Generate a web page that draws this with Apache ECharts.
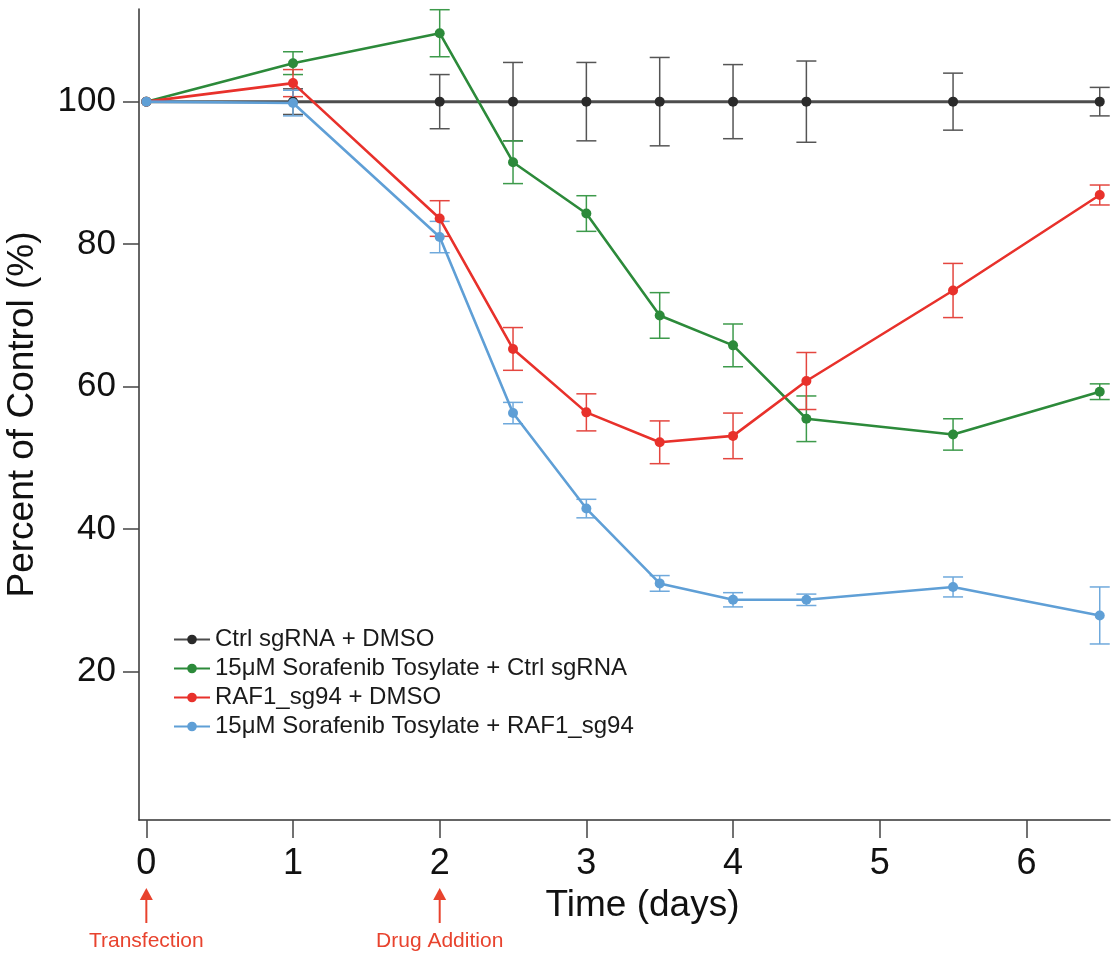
<!DOCTYPE html>
<html><head><meta charset="utf-8">
<script src="https://cdn.jsdelivr.net/npm/echarts@6/dist/echarts.min.js"></script>
<style>html,body{margin:0;padding:0;background:#fff}#c{width:1118px;height:955px}</style>
</head><body><div id="c"></div>
<script>
const days = [0, 1, 2, 2.5, 3, 3.5, 4, 4.5, 5.5, 6.5];
const seriesNames = ['Ctrl sgRNA + DMSO', '15μM Sorafenib Tosylate + Ctrl sgRNA', 'RAF1_sg94 + DMSO', '15μM Sorafenib Tosylate + RAF1_sg94'];
const ctrlMean  = [100, 100, 100, 100, 100, 100, 100, 100, 100, 100];
const ctrlErr   = [0, 1.8, 3.8, 5.5, 5.5, 6.2, 5.2, 5.7, 4.0, 2.0];
const soraMean  = [100, 105.4, 109.6, 91.5, 84.3, 70.0, 65.8, 55.5, 53.3, 59.3];
const soraErr   = [0, 1.6, 3.3, 3.0, 2.5, 3.2, 3.0, 3.2, 2.2, 1.1];
const rafMean   = [100, 102.6, 83.6, 65.3, 56.4, 52.2, 53.1, 60.8, 73.5, 86.9];
const rafErr    = [0, 1.9, 2.5, 3.0, 2.6, 3.0, 3.2, 4.0, 3.8, 1.4];
const comboMean = [100, 99.8, 81.0, 56.3, 42.9, 32.4, 30.1, 30.1, 31.9, 27.9];
const comboErr  = [0, 1.8, 2.2, 1.5, 1.3, 1.1, 1.0, 0.8, 1.4, 4.0];
const yTicks = [20, 40, 60, 80, 100];
const xTicks = [0, 1, 2, 3, 4, 5, 6];
const eventDays = [0, 2];
const eventLabels = ['Transfection', 'Drug Addition'];

const Y_MIN = -0.8, Y_MAX = 113;
const FONT = '"Liberation Sans", Helvetica, Arial, sans-serif';
const lineColors = ['#4d4d4d', '#2c8a3a', '#e8312b', '#5f9fd6'];
const dotColors  = ['#2a2a2a', '#2c8a3a', '#e8312b', '#5f9fd6'];
const errColors  = ['#555555', '#3d9a4b', '#e4463f', '#6fa9dc'];
const means = [ctrlMean, soraMean, rafMean, comboMean];
const errs  = [ctrlErr, soraErr, rafErr, comboErr];

function errRender(color) {
  return function (params, api) {
    const x = api.value(0), lo = api.value(1), hi = api.value(2);
    if (!(hi - lo > 0)) return;
    const a = api.coord([x, hi]), b = api.coord([x, lo]);
    const w = 10;
    const st = { stroke: color, lineWidth: 1.5 };
    return { type: 'group', children: [
      { type: 'line', shape: { x1: a[0], y1: a[1], x2: b[0], y2: b[1] }, style: st },
      { type: 'line', shape: { x1: a[0] - w, y1: a[1], x2: a[0] + w, y2: a[1] }, style: st },
      { type: 'line', shape: { x1: b[0] - w, y1: b[1], x2: b[0] + w, y2: b[1] }, style: st }
    ]};
  };
}

const series = [];
means.forEach((m, k) => {
  series.push({
    type: 'custom', name: 'err' + k, z: 2, silent: true,
    renderItem: errRender(errColors[k]),
    data: days.map((d, i) => [d, m[i] - errs[k][i], m[i] + errs[k][i]]),
    encode: { x: 0, y: [1, 2] }
  });
});
means.forEach((m, k) => {
  series.push({
    type: 'line', name: seriesNames[k], z: 3 + k,
    data: days.map((d, i) => [d, m[i]]),
    symbol: 'circle', symbolSize: 10, showSymbol: true,
    lineStyle: { color: lineColors[k], width: k === 0 ? 3 : 2.6 },
    itemStyle: { color: dotColors[k] },
    emphasis: { disabled: true }
  });
});
series.push({
  type: 'custom', name: 'events', silent: true, clip: false, z: 10,
  data: eventDays.map(d => [d, Y_MIN]),
  renderItem: function (params, api) {
    const p = api.coord([api.value(0), api.value(1)]);
    const col = '#e8432e';
    const tip = p[1] + 68;
    return { type: 'group', children: [
      { type: 'polygon', shape: { points: [[p[0], tip], [p[0] - 6.5, tip + 12], [p[0] + 6.5, tip + 12]] }, style: { fill: col } },
      { type: 'line', shape: { x1: p[0], y1: tip + 10, x2: p[0], y2: p[1] + 103 }, style: { stroke: col, lineWidth: 2 } },
      { type: 'text', x: p[0], y: p[1] + 121, style: { text: eventLabels[params.dataIndex], fill: col, font: '21px ' + FONT, align: 'center', verticalAlign: 'middle' } }
    ]};
  }
});

const chart = echarts.init(document.getElementById('c'), null, { renderer: 'canvas' });
chart.setOption({
  animation: false,
  backgroundColor: '#ffffff',
  textStyle: { fontFamily: FONT },
  grid: { left: 139, right: 8, top: 9, bottom: 135, containLabel: false, outerBoundsMode: 'none' },
  legend: {
    data: seriesNames, orient: 'vertical', left: 168, top: 620,
    itemWidth: 36, itemHeight: 12, itemGap: 0,
    textStyle: { fontSize: 24, color: '#1a1a1a', lineHeight: 29, fontFamily: FONT },
    selectedMode: false
  },
  xAxis: {
    type: 'value', min: -0.05, max: 6.57,
    axisLine: { show: true, onZero: false, lineStyle: { color: '#333', width: 1.5 } },
    axisTick: { show: true, customValues: xTicks, length: 18, lineStyle: { color: '#444', width: 1.5 } },
    axisLabel: { customValues: xTicks, fontSize: 36, color: '#111', margin: 26, fontFamily: FONT },
    splitLine: { show: false },
    name: 'Time (days)', nameLocation: 'middle', nameGap: 66,
    nameTextStyle: { fontSize: 37, color: '#111', padding: [0, 0, 0, 36], fontFamily: FONT }
  },
  yAxis: {
    type: 'value', min: Y_MIN, max: Y_MAX,
    axisLine: { show: true, onZero: false, lineStyle: { color: '#333', width: 1.5 } },
    axisTick: { show: true, customValues: yTicks, length: 16, lineStyle: { color: '#444', width: 1.5 } },
    axisLabel: { customValues: yTicks, fontSize: 35, color: '#111', margin: 23, fontFamily: FONT },
    splitLine: { show: false },
    name: 'Percent of Control (%)', nameLocation: 'middle', nameGap: 98, nameRotate: 90,
    nameTextStyle: { fontSize: 37, color: '#111', fontFamily: FONT }
  },
  series: series
});
</script></body></html>
